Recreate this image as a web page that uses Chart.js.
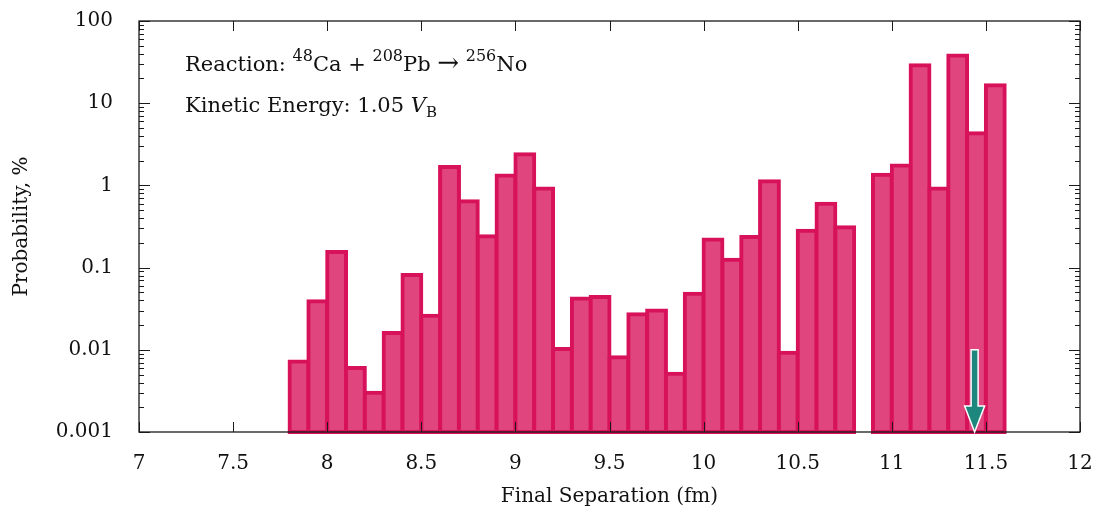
<!DOCTYPE html>
<html>
<head>
<meta charset="utf-8">
<script src="https://cdn.jsdelivr.net/npm/chart.js@4"></script>
<style>
  body { margin: 0; background: #fff; }
  canvas { display: block; }
</style>
</head>
<body>
<canvas id="chart" width="1101" height="515"></canvas>
<script>
// bin centres (fm), 0.1 fm wide bins; no bin at 10.85
const separations = [7.85, 7.95, 8.05, 8.15, 8.25, 8.35, 8.45, 8.55, 8.65, 8.75,
    8.85, 8.95, 9.05, 9.15, 9.25, 9.35, 9.45, 9.55, 9.65, 9.75,
    9.85, 9.95, 10.05, 10.15, 10.25, 10.35, 10.45, 10.55, 10.65, 10.75,
    10.95, 11.05, 11.15, 11.25, 11.35, 11.45, 11.55];
// probability, %
const probabilities = [0.0072, 0.039, 0.155, 0.006, 0.003, 0.016, 0.081, 0.026, 1.68, 0.64,
    0.24, 1.32, 2.4, 0.92, 0.0102, 0.042, 0.044, 0.0081, 0.027, 0.030,
    0.0051, 0.048, 0.22, 0.125, 0.235, 1.12, 0.0092, 0.28, 0.6, 0.31,
    1.35, 1.75, 29, 0.92, 38, 4.3, 16.5];

const xTickValues = [7, 7.5, 8, 8.5, 9, 9.5, 10, 10.5, 11, 11.5, 12];
const xTickLabels = ['7', '7.5', '8', '8.5', '9', '9.5', '10', '10.5', '11', '11.5', '12'];
const yTickValues = [0.001, 0.01, 0.1, 1, 10, 100];
const yTickLabels = ['0.001', '0.01', '0.1', '1', '10', '100'];

// arrow marker (x position, from / to probability)
const arrowX = 11.44;
const arrowFrom = 0.01;
const arrowTo = 0.001;

const serif = "'DejaVu Serif', 'Liberation Serif', serif";

// frame with inward ticks on all four sides
const frameTicks = {
    id: 'frameTicks',
    afterDatasetsDraw(chart) {
        const ctx = chart.ctx;
        const a = chart.chartArea;
        const x = chart.scales.x, y = chart.scales.y;
        ctx.save();
        ctx.strokeStyle = '#1a1a1a';
        ctx.lineWidth = 1.3;
        ctx.strokeRect(a.left, a.top, a.right - a.left, a.bottom - a.top);
        ctx.lineWidth = 1;
        ctx.beginPath();
        xTickValues.forEach(function(v) {
            var px = Math.round(x.getPixelForValue(v)) + 0.5;
            ctx.moveTo(px, a.bottom); ctx.lineTo(px, a.bottom - 10);
            ctx.moveTo(px, a.top); ctx.lineTo(px, a.top + 10);
        });
        for (var e = -3; e <= 2; e++) {
            for (var m = 1; m <= 9; m++) {
                var v = m * Math.pow(10, e);
                if (v < y.min * 0.999 || v > y.max * 1.001) continue;
                var py = Math.round(y.getPixelForValue(v)) + 0.5;
                var len = (m == 1) ? 11 : 5;
                ctx.moveTo(a.left, py); ctx.lineTo(a.left + len, py);
                ctx.moveTo(a.right, py); ctx.lineTo(a.right - len, py);
            }
        }
        ctx.stroke();
        ctx.restore();
    }
};

// text block + arrow
function drawRuns(ctx, runs, x, y) {
    runs.forEach(function(r) {
        var size = r[1] || 21;
        ctx.font = (r[3] ? 'italic ' : '') + size + 'px ' + serif;
        ctx.fillText(r[0], x, y - (r[2] || 0));
        x += ctx.measureText(r[0]).width;
    });
}

const annotations = {
    id: 'annotations',
    afterDraw(chart) {
        const ctx = chart.ctx;
        const x = chart.scales.x, y = chart.scales.y;
        ctx.save();
        ctx.fillStyle = '#111';
        ctx.textBaseline = 'alphabetic';
        drawRuns(ctx, [['Reaction: '], ['48', 16, 10], ['Ca + '], ['208', 16, 10], ['Pb '], ['\u2192', 26, 0], [' '], ['256', 16, 10], ['No']], 185, 71);
        drawRuns(ctx, [['Kinetic Energy: 1.05 '], ['V', 21, 0, true], ['B', 15, -5]], 185, 112);

        // arrow
        var ax = x.getPixelForValue(arrowX);
        var y0 = y.getPixelForValue(arrowFrom);
        var y1 = y.getPixelForValue(arrowTo);
        var headLen = 26, headW = 10, shaftW = 3.5;
        ctx.beginPath();
        ctx.moveTo(ax - shaftW, y0);
        ctx.lineTo(ax + shaftW, y0);
        ctx.lineTo(ax + shaftW, y1 - headLen);
        ctx.lineTo(ax + headW, y1 - headLen);
        ctx.lineTo(ax, y1);
        ctx.lineTo(ax - headW, y1 - headLen);
        ctx.lineTo(ax - shaftW, y1 - headLen);
        ctx.closePath();
        ctx.fillStyle = '#1e877d';
        ctx.strokeStyle = '#ffffff';
        ctx.lineWidth = 1.5;
        ctx.fill();
        ctx.stroke();
        ctx.restore();
    }
};

const ctx = document.getElementById('chart').getContext('2d');
const chart = new Chart(ctx, {
    type: 'bar',
    data: {
        datasets: [{
            data: separations.map(function(s, i) { return { x: s, y: probabilities[i] }; }),
            backgroundColor: '#e0457d',
            borderColor: '#d8125a',
            borderWidth: 4,
            inflateAmount: 2,
            borderSkipped: false,
            barPercentage: 1,
            categoryPercentage: 1,
            clip: 6
        }]
    },
    options: {
        responsive: false,
        animation: false,
        layout: { padding: { top: 21, right: 21, left: 0, bottom: 0 } },
        plugins: {
            legend: { display: false },
            tooltip: { enabled: false }
        },
        scales: {
            x: {
                type: 'linear',
                min: 7,
                max: 12,
                offset: false,
                grid: { display: false, offset: false },
                border: { display: false },
                afterBuildTicks: function(s) { s.ticks = xTickValues.map(function(v) { return { value: v }; }); },
                afterFit: function(s) { s.height = 83; s.paddingLeft = 0; s.paddingRight = 0; },
                ticks: {
                    padding: 12,
                    color: '#111',
                    font: { family: serif, size: 20 },
                    maxRotation: 0,
                    callback: function(v) { return xTickLabels[xTickValues.indexOf(v)]; }
                },
                title: {
                    display: true,
                    text: 'Final Separation (fm)',
                    color: '#111',
                    font: { family: serif, size: 20 },
                    padding: { top: 0, bottom: 6 }
                }
            },
            y: {
                type: 'logarithmic',
                min: 0.001,
                max: 100,
                grid: { display: false },
                border: { display: false },
                afterBuildTicks: function(s) { s.ticks = yTickValues.map(function(v) { return { value: v }; }); },
                afterFit: function(s) { s.width = 139; s.paddingTop = 0; s.paddingBottom = 0; },
                ticks: {
                    padding: 18,
                    color: '#111',
                    font: { family: serif, size: 20 },
                    callback: function(v) {
                        var i = yTickValues.findIndex(function(t) { return Math.abs(t - v) / t < 1e-6; });
                        return i >= 0 ? yTickLabels[i] : '';
                    }
                },
                title: {
                    display: true,
                    text: 'Probability, %',
                    color: '#111',
                    font: { family: serif, size: 20 },
                    padding: { top: 10, bottom: 0 }
                }
            }
        }
    },
    plugins: [frameTicks, annotations]
});
</script>
</body>
</html>
